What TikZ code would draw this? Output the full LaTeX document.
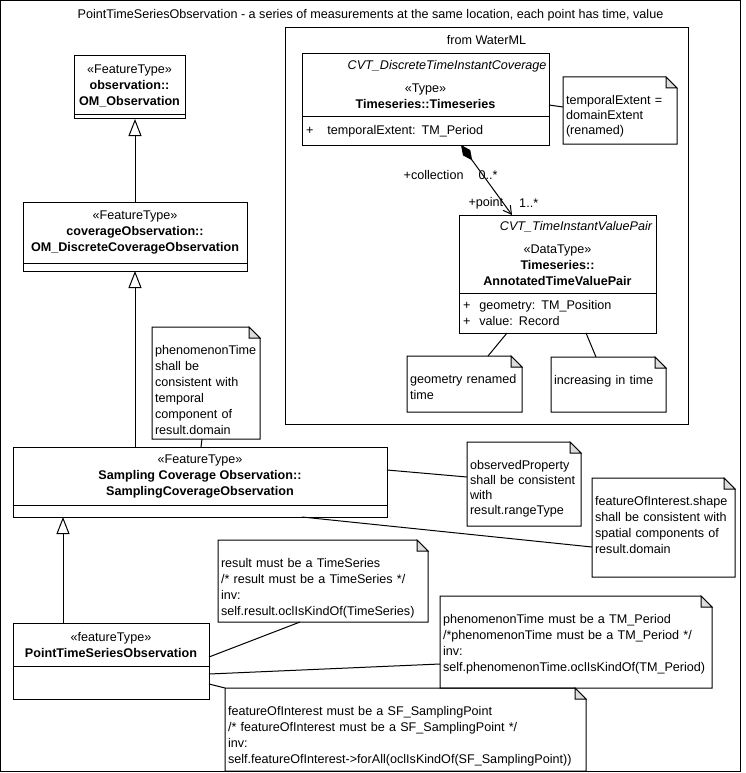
\documentclass[tikz,border=0pt]{standalone}
\usepackage{fontspec}
\setmainfont{Liberation Sans}
\usetikzlibrary{arrows.meta, positioning}

\definecolor{foldgray}{RGB}{221,221,221}

\begin{document}
\begin{tikzpicture}[
    x=1pt, y=1pt, line width=1pt,
    font=\fontsize{12.6}{16}\selectfont,
    umlbox/.style={rectangle, draw, anchor=north west, inner sep=0pt, outer sep=0pt, align=center},
    umlattr/.style={rectangle, draw, inner xsep=4pt, inner ysep=0pt, outer sep=0pt, align=left},
    umlnote/.style={rectangle, anchor=north west, inner xsep=3pt, inner ysep=0pt, outer sep=0pt, align=left, text height=27.5pt},
    lbl/.style={inner sep=0pt},
    generalize/.style={-{Triangle[open, length=17pt, width=13pt]}},
    composition/.style={{Diamond[length=19pt, width=9pt, fill=black]}-{Straight Barb[length=8pt, width=9pt]}}
]
\useasboundingbox (0,0) rectangle (745,-773);

% Frames
\node[umlbox, minimum width=740pt, minimum height=771pt] (frame) at (0.5,-0.5) {};
\node[lbl] (title) at ([yshift=-15pt]frame.north) {PointTimeSeriesObservation - a series of measurements at the same location, each point has time, value};
\node[umlbox, minimum width=403pt, minimum height=396pt] (pkg) at (285,-28) {};
\node[lbl] (pkgLbl) at ([yshift=-12pt]pkg.north) {from WaterML};

% Classes
\node[umlbox, minimum width=111pt, minimum height=59pt] (obsH) at (74,-56) {«FeatureType»\\\textbf{observation::}\\\textbf{OM\_Observation}};
\node[umlattr, below=0pt of obsH, minimum width=111pt, minimum height=4pt] (obsA) {};

\node[umlbox, minimum width=224pt, minimum height=61pt] (covH) at (23,-202) {«FeatureType»\\\textbf{coverageObservation::}\\\textbf{OM\_DiscreteCoverageObservation}};
\node[umlattr, below=0pt of covH, minimum width=224pt, minimum height=8pt] (covA) {};

\node[umlbox, minimum width=374pt, minimum height=58pt] (scoH) at (13,-447) {«FeatureType»\\\textbf{Sampling Coverage Observation::}\\\textbf{SamplingCoverageObservation}};
\node[umlattr, below=0pt of scoH, minimum width=374pt, minimum height=12pt] (scoA) {};

\node[umlbox, minimum width=196pt, minimum height=43pt] (ptH) at (13,-623) {«featureType»\\\textbf{PointTimeSeriesObservation}};
\node[umlattr, below=0pt of ptH, minimum width=196pt, minimum height=33pt] (ptA) {};

\node[umlbox, minimum width=247pt, minimum height=63pt] (tsH) at (302,-54) {};
\node[lbl, anchor=east] (tsCvt) at ([xshift=-2pt, yshift=-12pt]tsH.north east) {\textit{CVT\_DiscreteTimeInstantCoverage}};
\node[lbl, align=center] (tsName) at ([yshift=-10.5pt]tsH.center) {«Type»\\\textbf{Timeseries::Timeseries}};
\node[umlattr, below=0pt of tsH, text width=239pt, minimum height=28pt] (tsA) {+\hspace{14pt}temporalExtent:\hspace{6pt}TM\_Period};

\node[umlbox, minimum width=197pt, minimum height=78pt] (atvH) at (459,-215) {};
\node[lbl, anchor=east] (atvCvt) at ([xshift=-3pt, yshift=-12pt]atvH.north east) {\textit{CVT\_TimeInstantValuePair}};
\node[lbl, align=center] (atvName) at ([yshift=-11pt]atvH.center) {«DataType»\\\textbf{Timeseries::}\\\textbf{AnnotatedTimeValuePair}};
\node[umlattr, below=0pt of atvH, text width=189pt, minimum height=40pt] (atvA) {+\hspace{9pt}geometry:\hspace{6pt}TM\_Position\\+\hspace{9pt}value:\hspace{6pt}Record};

% Notes
\node[umlnote, text width=108pt, text depth=39.5pt, font=\fontsize{12.6}{15}\selectfont] (noteTE) at (563,-77) {temporalExtent =\\domainExtent\\(renamed)};
\node[umlnote, text width=109pt, text depth=28.5pt] (noteGeom) at (407,-356) {geometry renamed\\time};
\node[umlnote, text width=109pt, text depth=27.5pt] (noteInc) at (551,-357) {increasing in time};
\node[umlnote, text width=102pt, text depth=84.5pt] (notePT) at (152,-327) {phenomenonTime\\shall be\\consistent with\\temporal\\component of\\result.domain};
\node[umlnote, text width=108pt, text depth=56.5pt, font=\fontsize{12.6}{15}\selectfont] (noteObs) at (467,-442) {observedProperty\\shall be consistent\\with\\result.rangeType};
\node[umlnote, text width=137pt, text depth=71.5pt] (noteFoi) at (592,-478) {featureOfInterest.shape\\shall be consistent with\\spatial components of\\result.domain};
\node[umlnote, text width=204pt, text depth=54.5pt] (noteRes) at (218,-540) {result must be a TimeSeries\\/* result must be a TimeSeries */\\inv:\\self.result.oclIsKindOf(TimeSeries)};
\node[umlnote, text width=266pt, text depth=64.5pt] (notePer) at (440,-596) {phenomenonTime must be a TM\_Period\\/*phenomenonTime must be a TM\_Period */\\inv:\\self.phenomenonTime.oclIsKindOf(TM\_Period)};
\node[umlnote, text width=355pt, text depth=55.5pt] (noteSP) at (225,-688) {featureOfInterest must be a SF\_SamplingPoint\\/* featureOfInterest must be a SF\_SamplingPoint */\\inv:\\self.featureOfInterest->forAll(oclIsKindOf(SF\_SamplingPoint))};

\foreach \n in {noteTE, noteGeom, noteInc, notePT, noteObs, noteFoi, noteRes, notePer, noteSP} {
    \draw (\n.north west) -- ([xshift=-11pt]\n.north east) -- ([yshift=-11pt]\n.north east) |- (\n.south west) -- cycle;
    \filldraw[fill=foldgray] ([xshift=-11pt]\n.north east) |- ([yshift=-11pt]\n.north east) -- cycle;
}

% Generalizations
\draw[generalize] (covH.north) -- (covH.north |- obsA.south);
\draw[generalize] (scoH.north -| covA.south) -- (covA.south);
\draw[generalize] ([xshift=-48pt]ptH.north) -- ([xshift=-48pt]ptH.north |- scoA.south);

% Composition
\draw[composition] ([xshift=35.5pt]tsA.south) --
    node[lbl, pos=0.426, anchor=east, xshift=-18.7pt] {+collection}
    node[lbl, pos=0.426, anchor=west, xshift=-4.7pt] {0..*}
    node[lbl, pos=0.838, anchor=east] {+point}
    node[lbl, pos=0.838, anchor=west, xshift=15pt] {1..*}
    ([xshift=-45.5pt]atvH.north);

% Note links
\draw ([yshift=-19.5pt]tsH.east) -- ([yshift=3.5pt]noteTE.west);
\draw ([xshift=-50.5pt]atvA.south) -- ([xshift=23.5pt]noteGeom.north);
\draw ([xshift=28.5pt]atvA.south) -- ([xshift=-12.5pt]noteInc.north);
\draw ([xshift=-4pt]notePT.south) -- ([xshift=1pt]scoH.north);
\draw ([yshift=6pt]scoH.east) -- ([yshift=7pt]noteObs.west);
\draw ([xshift=102pt]scoA.south) -- ([yshift=-19.5pt]noteFoi.west);
\draw ([yshift=-12.5pt]ptH.east) -- ([xshift=-23pt]noteRes.south);
\draw ([yshift=8.5pt]ptA.east) -- ([yshift=-22pt]notePer.west);
\draw ([yshift=-1.5pt]ptA.east) -- (noteSP.north west);

\end{tikzpicture}
\end{document}
